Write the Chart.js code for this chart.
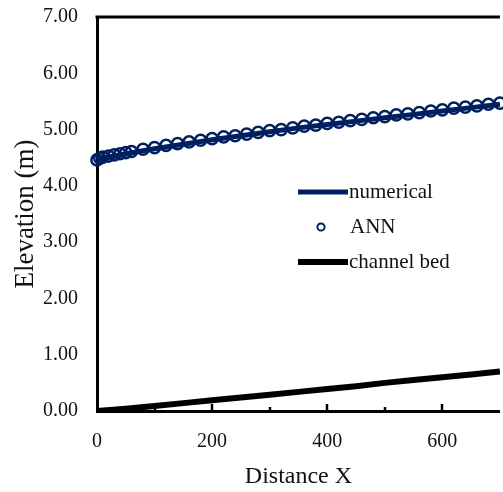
<!DOCTYPE html>
<html>
<head>
<meta charset="utf-8">
<script src="https://cdn.jsdelivr.net/npm/chart.js@4.4.1/dist/chart.umd.min.js"></script>
<style>
html,body{margin:0;padding:0;background:#fff;overflow:hidden;width:503px;height:492px;}
#wrap{width:508px;height:492px;}
</style>
</head>
<body>
<div id="wrap"><canvas id="c" width="508" height="492"></canvas></div>
<script>
// ---- data ----
const numericalX = [0, 50, 100, 150, 200, 250, 300, 350, 400, 450, 500, 550, 600, 650, 700];
const numericalY = [4.47, 4.57, 4.66, 4.74, 4.82, 4.89, 4.96, 5.03, 5.09, 5.15, 5.21, 5.27, 5.33, 5.39, 5.45];

const annX = [0, 5, 10, 20, 30, 40, 50, 60, 80, 100, 120, 140, 160, 180, 200, 220, 240, 260, 280, 300,
              320, 340, 360, 380, 400, 420, 440, 460, 480, 500, 520, 540, 560, 580, 600, 620, 640, 660, 680, 700];
const annY = [4.46, 4.49, 4.51, 4.53, 4.55, 4.57, 4.59, 4.61, 4.65, 4.68, 4.72, 4.75, 4.78, 4.81, 4.84, 4.87, 4.89, 4.92, 4.95, 4.98,
              5.00, 5.03, 5.06, 5.08, 5.11, 5.13, 5.16, 5.18, 5.21, 5.23, 5.26, 5.28, 5.30, 5.33, 5.35, 5.38, 5.40, 5.42, 5.45, 5.47];

const bedX = [0, 50, 100, 150, 200, 250, 300, 350, 400, 450, 500, 550, 600, 650, 700];
const bedY = [0.00, 0.04, 0.09, 0.14, 0.19, 0.24, 0.29, 0.34, 0.39, 0.44, 0.50, 0.55, 0.60, 0.65, 0.70];

const xTickValues = [0, 200, 400, 600];
const xMinorValues = [100, 300, 500];
const seriesNames = ['numerical', 'ANN', 'channel bed'];
const xTitle = 'Distance X';
const yTitle = 'Elevation (m)';

const NAVY = '#002060';
const SERIF = "'Liberation Serif','Times New Roman',serif";

const pts = (xs, ys) => xs.map((x, i) => ({x: x, y: ys[i]}));

const frame = {
  id: 'frame',
  afterDatasetsDraw(chart) {
    const {ctx, chartArea: a, scales} = chart;
    const xs = scales.x;
    ctx.save();
    ctx.strokeStyle = '#000';
    // top border
    ctx.lineWidth = 3;
    ctx.beginPath();
    ctx.moveTo(a.left - 1.5, a.top);
    ctx.lineTo(a.right, a.top);
    ctx.stroke();
    // inside tick marks on x axis
    ctx.lineWidth = 2.5;
    xTickValues.concat(xMinorValues).forEach(v => {
      if (v === 0) return;
      const px = Math.round(xs.getPixelForValue(v));
      const len = xTickValues.includes(v) ? 7 : 4;
      ctx.beginPath();
      ctx.moveTo(px, a.bottom);
      ctx.lineTo(px, a.bottom - len);
      ctx.stroke();
    });
    // legend
    const lx = a.left + 201, tx = a.left + 252;
    const rows = [a.top + 175, a.top + 210, a.top + 245];
    ctx.font = '21px ' + SERIF;
    ctx.textBaseline = 'middle';
    ctx.fillStyle = '#111';
    const ds = chart.data.datasets;
    // numerical
    ctx.strokeStyle = ds[0].borderColor; ctx.lineWidth = ds[0].borderWidth;
    ctx.beginPath(); ctx.moveTo(lx, rows[0]); ctx.lineTo(lx + 50, rows[0]); ctx.stroke();
    ctx.fillText(ds[0].label, tx, rows[0]);
    // ANN
    ctx.strokeStyle = ds[1].borderColor; ctx.lineWidth = 2;
    ctx.beginPath(); ctx.arc(lx + 23, rows[1], 3.6, 0, Math.PI * 2); ctx.stroke();
    ctx.fillText(ds[1].label, tx + 1, rows[1]);
    // channel bed
    ctx.strokeStyle = ds[2].borderColor; ctx.lineWidth = ds[2].borderWidth;
    ctx.beginPath(); ctx.moveTo(lx, rows[2]); ctx.lineTo(lx + 50, rows[2]); ctx.stroke();
    ctx.fillText(ds[2].label, tx, rows[2]);
    ctx.restore();
  }
};

new Chart(document.getElementById('c'), {
  type: 'scatter',
  data: {
    datasets: [
      {label: seriesNames[0], data: pts(numericalX, numericalY), showLine: true, borderColor: NAVY,
       backgroundColor: NAVY, borderWidth: 5, pointRadius: 0, order: 2},
      {label: seriesNames[1], data: pts(annX, annY), showLine: false, borderColor: NAVY,
       backgroundColor: 'rgba(0,0,0,0)', borderWidth: 2.5, pointRadius: 5.6, clip: false, order: 1},
      {label: seriesNames[2], data: pts(bedX, bedY), showLine: true, borderColor: '#000',
       backgroundColor: '#000', borderWidth: 6, pointRadius: 0, order: 3}
    ]
  },
  options: {
    responsive: false,
    animation: false,
    devicePixelRatio: 1,
    layout: {padding: {left: 0, top: 17, right: 2, bottom: 0}},
    plugins: {legend: {display: false}, tooltip: {enabled: false}},
    scales: {
      x: {
        type: 'linear', min: 0, max: 700,
        grid: {display: false, drawTicks: false},
        border: {display: true, color: '#000', width: 3},
        ticks: {stepSize: 100, padding: 19, color: '#111', font: {family: SERIF, size: 20},
                maxRotation: 0, autoSkip: false,
                callback: v => xTickValues.includes(v) ? String(v) : ''},
        title: {display: true, text: xTitle, color: '#111', font: {family: SERIF, size: 24},
                padding: {top: 0, bottom: 1}},
        afterFit: s => { s.height = 81; s.paddingLeft = 0; s.paddingRight = 0; }
      },
      y: {
        min: 0, max: 7,
        grid: {display: false, drawTicks: false},
        border: {display: true, color: '#000', width: 3},
        ticks: {stepSize: 1, padding: 19, color: '#111', font: {family: SERIF, size: 20},
                callback: v => Number(v).toFixed(2)},
        title: {display: true, text: yTitle, color: '#111', font: {family: SERIF, size: 27},
                padding: {top: 10, bottom: 0}},
        afterFit: s => { s.width = 97; s.paddingTop = 0; s.paddingBottom = 0; }
      }
    }
  },
  plugins: [frame]
});
</script>
</body>
</html>
